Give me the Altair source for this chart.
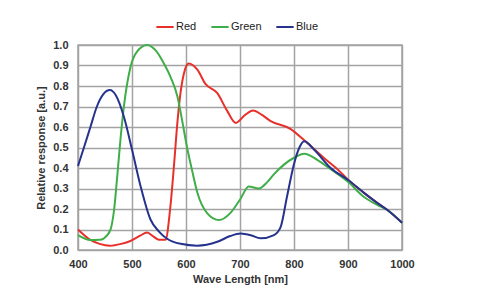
import altair as alt
import pandas as pd

# Spectral response curves of the three colour channels
red_wl = [400, 423, 440, 459, 480, 497, 515, 528, 540, 550, 562, 571, 578, 584, 590, 597, 605,
          621, 636, 658, 676, 692, 710, 724, 740, 756, 794, 821, 855, 886, 901, 929, 954, 973, 1000]
red_val = [0.10, 0.049, 0.03, 0.021, 0.03, 0.044, 0.07, 0.085, 0.065, 0.05, 0.05, 0.21, 0.42, 0.62,
           0.77, 0.87, 0.91, 0.88, 0.81, 0.765, 0.68, 0.62, 0.66, 0.68, 0.66, 0.63, 0.59, 0.53, 0.45,
           0.38, 0.34, 0.28, 0.23, 0.195, 0.133]

green_wl = [400, 423, 440, 448, 460, 467, 473, 479, 485, 497, 510, 528, 545, 559, 572, 584, 593,
            602, 612, 621, 639, 661, 682, 701, 716, 735, 750, 763, 800, 819, 843, 870, 901, 929,
            954, 973, 1000]
green_val = [0.073, 0.049, 0.05, 0.057, 0.098, 0.2, 0.37, 0.55, 0.70, 0.89, 0.97, 1.0, 0.97, 0.91,
             0.84, 0.75, 0.63, 0.50, 0.38, 0.28, 0.18, 0.146, 0.18, 0.25, 0.31, 0.30, 0.33, 0.37,
             0.45, 0.47, 0.44, 0.39, 0.33, 0.26, 0.22, 0.195, 0.133]

blue_wl = [400, 411, 423, 435, 447, 459, 470, 485, 500, 516, 534, 550, 565, 590, 621, 658, 682,
           701, 720, 738, 763, 775, 787, 800, 810, 819, 837, 868, 901, 929, 954, 973, 1000]
blue_val = [0.41, 0.50, 0.60, 0.70, 0.76, 0.78, 0.755, 0.65, 0.49, 0.31, 0.15, 0.09, 0.055, 0.03,
            0.021, 0.04, 0.068, 0.08, 0.072, 0.057, 0.073, 0.11, 0.26, 0.42, 0.50, 0.53, 0.49,
            0.40, 0.34, 0.28, 0.23, 0.195, 0.133]

channels = ["Red", "Green", "Blue"]
colors = ["#e8302a", "#3fae49", "#26338c"]

frames = []
for i, (name, wl, val) in enumerate(zip(channels, [red_wl, green_wl, blue_wl],
                                        [red_val, green_val, blue_val])):
    frames.append(pd.DataFrame({"wl": wl, "val": val, "channel": name, "order": i}))
df = pd.concat(frames, ignore_index=True)

FONT = "Liberation Sans"

chart = alt.Chart(df).mark_line(strokeWidth=2, interpolate="monotone").encode(
    x=alt.X("wl:Q",
            scale=alt.Scale(domain=[400, 1000], nice=False),
            axis=alt.Axis(title="Wave Length [nm]", values=list(range(400, 1001, 100)),
                          format="d", ticks=False, domain=False, labelPadding=8,
                          labelFlush=False, titlePadding=4)),
    y=alt.Y("val:Q",
            scale=alt.Scale(domain=[0, 1.0], nice=False),
            axis=alt.Axis(title="Relative response [a.u.]", values=[i / 10 for i in range(11)],
                          format=".1f", ticks=False, domain=False, labelPadding=10,
                          labelFlush=False, titlePadding=6)),
    color=alt.Color("channel:N",
                    scale=alt.Scale(domain=channels, range=colors),
                    legend=alt.Legend(title=None, orient="none", direction="horizontal",
                                      legendX=77, legendY=-28, symbolType="stroke",
                                      symbolSize=300, symbolStrokeWidth=2,
                                      labelOffset=1, columnPadding=10)),
    detail="order:O",
    order="order:O",
).properties(
    width=324,
    height=205,
    autosize=alt.AutoSizeParams(type="none"),
    padding={"left": 78, "top": 45, "right": 98, "bottom": 50},
).configure_view(
    stroke="#a3a3a3", strokeWidth=1.5
).configure_axis(
    gridColor="#a3a3a3", gridWidth=1.5, gridOpacity=1,
    labelFont=FONT, labelFontSize=11, labelFontWeight="bold", labelColor="#333333",
    titleFont=FONT, titleFontSize=11, titleFontWeight="bold", titleColor="#333333",
).configure_legend(
    labelFont=FONT, labelFontSize=11, labelFontWeight="normal", labelColor="#222222",
)

chart.save("out.html", embed_options={"renderer": "svg", "actions": False})
